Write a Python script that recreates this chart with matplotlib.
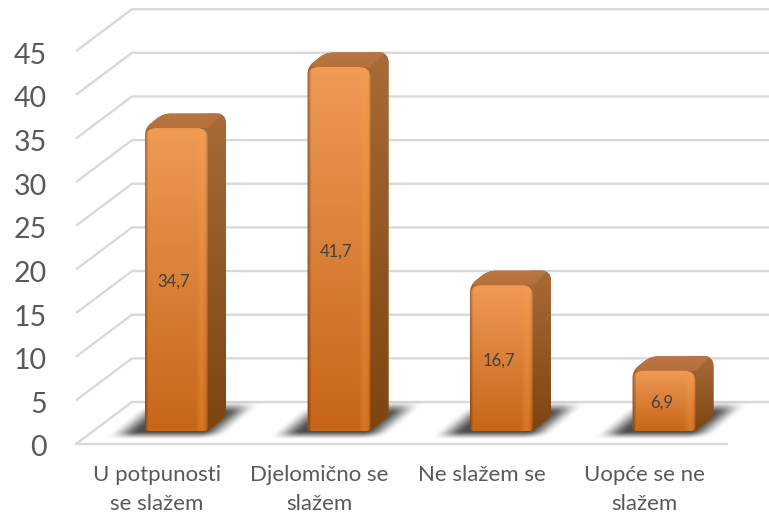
import numpy as np
import matplotlib
matplotlib.use('Agg')
import matplotlib.pyplot as plt
from matplotlib.path import Path
from matplotlib.patches import PathPatch

categories = ['U potpunosti\nse slažem', 'Djelomično se\nslažem', 'Ne slažem se', 'Uopće se ne\nslažem']
values = [34.7, 41.7, 16.7, 6.9]
value_labels = ['34,7', '41,7', '16,7', '6,9']
yticks = [0, 5, 10, 15, 20, 25, 30, 35, 40, 45]

plt.rcParams['font.family'] = ['Lato', 'DejaVu Sans']

# size of one unit in pixels
SX = 162.5
SY = 8.73
BAR_W = 63 / SX
DX = 18 / SX
DY = 14.5 / SY
TEXT = '#595959'
GRID = '#d9d9d9'

fig = plt.figure(figsize=(7.69, 5.15), dpi=100)
ax = fig.add_axes([0, 0, 1, 1])
xlim = (-176.5 / SX, (769 - 176.5) / SX)
ylim = ((431 - 515) / SY, 431 / SY)
ax.axis('off')


def rounded(points, radius):
    # closed path, radius per corner in pixels
    pts = np.array(points, dtype=float)
    n = len(pts)
    verts, codes = [], []
    for i in range(n):
        p, prev, nxt = pts[i], pts[i - 1], pts[(i + 1) % n]
        r = radius[i]
        a, b = (prev - p) * [SX, SY], (nxt - p) * [SX, SY]
        p1 = p + (prev - p) * min(r / np.hypot(*a), 0.5)
        p2 = p + (nxt - p) * min(r / np.hypot(*b), 0.5)
        verts += [p1, p, p2]
        codes += [Path.LINETO, Path.CURVE3, Path.CURVE3]
    codes[0] = Path.MOVETO
    verts.append(verts[0])
    codes.append(Path.CLOSEPOLY)
    return Path(verts, codes)


def shaded(path, x0, x1, y0, y1, top, bottom, bevel=False):
    # vertical gradient image clipped to a face of the bar
    hex2 = matplotlib.colors.to_rgb
    ny, nx = 200, 80
    t = np.linspace(0, 1, ny)[:, None, None]
    img = np.array(hex2(top)) * (1 - t) + np.array(hex2(bottom)) * t
    img = np.repeat(img, nx, axis=1)
    if bevel:
        w = (x1 - x0) * SX
        h = (y1 - y0) * SY
        px = np.linspace(0, w, nx)[None, :, None]
        py = np.linspace(0, h, ny)[:, None, None]
        light = np.clip(1 - np.abs(w - 6 - px) / 6, 0, 1) * 0.30
        light = np.maximum(light, np.clip(1 - np.abs(py - 5) / 6, 0, 1) * 0.22)
        img = img + (np.array([1.0, 0.62, 0.28]) - img) * light
        edge = np.clip(1 - px / 3, 0, 1) * 0.3 + np.clip(1 - (w - px) / 2, 0, 1) * 0.2
        img = img * (1 - edge)
    im = ax.imshow(np.clip(img, 0, 1), extent=(x0, x1, y0, y1), origin='upper',
                   aspect='auto', zorder=4, interpolation='bilinear')
    im.set_clip_path(PathPatch(path, transform=ax.transData))


def smooth(t):
    t = np.clip(t, 0, 1)
    return t * t * (3 - 2 * t)


def floor_shadow(x):
    # soft dark shape lying on the floor behind the bar
    ny, nx = 80, 280
    px = np.linspace(-70, 130, nx)
    py = np.linspace(-12, 44, ny)
    xx, yy = np.meshgrid(px, py)
    u = xx - yy * 1.2
    a = smooth((u + 34) / 30) * smooth((86 - u) / 28)
    a = a * smooth((yy + 9) / 9) * smooth((31 - yy) / 14)
    img = np.zeros((ny, nx, 4))
    img[..., :3] = 0.2
    img[..., 3] = a * 0.88
    ax.imshow(img, extent=(x - BAR_W / 2 + px[0] / SX, x - BAR_W / 2 + px[-1] / SX,
                           py[0] / SY, py[-1] / SY),
              origin='lower', aspect='auto', zorder=3, interpolation='bilinear')


# walls and floor
front_x = (76 - 176.5) / SX
back_x = (132 - 176.5) / SX
right_x = (769 - 176.5) / SX
floor_right = (727 - 176.5) / SX
front_0 = (431 - 444) / SY
back_0 = (431 - 402) / SY
for v in yticks:
    ax.plot([front_x, back_x, right_x], [front_0 + v, back_0 + v, back_0 + v],
            color=GRID, lw=1.7, zorder=1, solid_joinstyle='miter', solid_capstyle='butt')
    ax.text(front_x - 29 / SX, front_0 + v - 4.5 / SY, str(v), ha='right', va='center',
            fontsize=20.5, color=TEXT)
ax.plot([front_x, floor_right], [front_0, front_0], color=GRID, lw=1.7, zorder=1)

# bars
for i, v in enumerate(values):
    x0, x1 = i - BAR_W / 2, i + BAR_W / 2
    floor_shadow(i)
    base = rounded([(x0, 0), (x0, v), (x0 + DX, v + DY), (x1 + DX, v + DY), (x1 + DX, DY), (x1, 0)],
                   [4, 7, 8, 10, 4, 3])
    ax.add_patch(PathPatch(base, fc='#a5652f', ec='none', zorder=3.5))
    side = rounded([(x1 - 0.02, 0), (x1 - 0.02, v + DY), (x1 + DX, v + DY), (x1 + DX, DY), (x1, 0)],
                   [1, 1, 10, 4, 3])
    shaded(side, x1 - 0.02, x1 + DX, 0, v + DY, '#a96b38', '#7c4510')
    top = rounded([(x0, v), (x0 + DX, v + DY), (x1 + DX - 0.02, v + DY), (x1, v)], [7, 8, 3, 1])
    shaded(top, x0, x1 + DX, v, v + DY, '#b97542', '#b5703c')
    front = rounded([(x0, 0), (x0, v), (x1, v), (x1, 0)], [4, 11, 11, 4])
    shaded(front, x0, x1, 0, v, '#ee9a56', '#c76618', bevel=True)
    ax.text(i - 0.015, v / 2 - 0.25, value_labels[i], ha='center', va='center',
            fontsize=12, color='#404040', zorder=6)
    ax.text(i - 0.12, (431 - 465) / SY, categories[i], ha='center', va='top',
            fontsize=16, color=TEXT, linespacing=1.55)

ax.set_xlim(xlim)
ax.set_ylim(ylim)
fig.savefig('out.png', dpi=100)
